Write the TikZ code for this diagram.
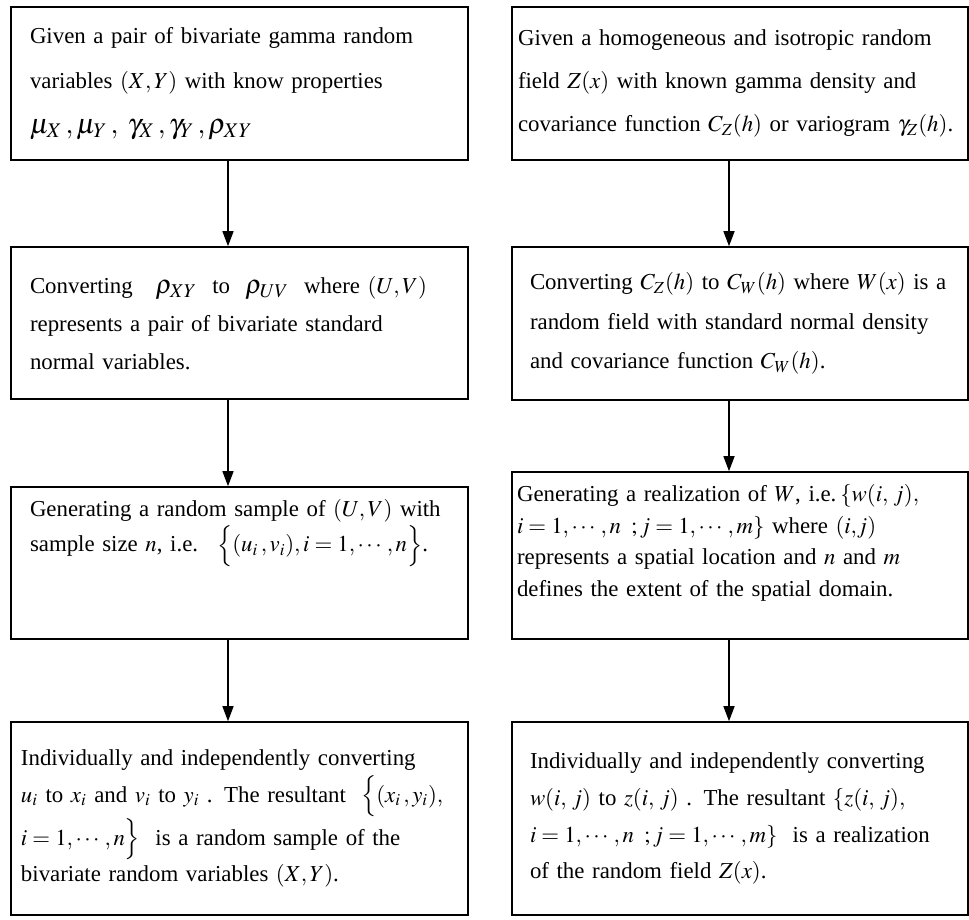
\documentclass[tikz,border=0pt]{standalone}
\usepackage{mathptmx}
\usepackage{fontspec}
\setmainfont{Liberation Serif}
\usepackage{amsmath}
\usetikzlibrary{arrows.meta}

\begin{document}
\begin{tikzpicture}[
        box/.style={rectangle, draw, line width=0.9pt, inner sep=0pt, align=left},
        lbox/.style={box, minimum width=9.14cm},
        rbox/.style={box, minimum width=9.12cm},
        sz/.style={font=\fontsize{13pt}{#1}\selectfont},
        arrow/.style={-{Triangle[length=0.3cm, width=0.22cm]}, line width=0.8pt}
    ]
        \useasboundingbox (0,0) rectangle (19.38,-18.4);

        % Left column
        \node[lbox, sz=25.5pt, minimum height=3.06cm, text width=8.38cm] (gamma) at (4.79,-1.67)
            {Given a pair of bivariate gamma random\\
             variables $(X,Y)$ with know properties\\
             {\fontsize{16pt}{20pt}\selectfont$\mu_X\,,\mu_Y\,,\;\gamma_X\,,\gamma_Y\,,\rho_{XY}$}};
        \node[lbox, sz=21.5pt, minimum height=3.04cm, text width=8.38cm] (rho) at (4.79,-6.46)
            {Converting \ \ {\fontsize{15pt}{18pt}\selectfont$\rho_{XY}$} \ to \ {\fontsize{15pt}{18pt}\selectfont$\rho_{UV}$} \ where $(U,V)$\\
             represents a pair of bivariate standard\\
             normal variables.};
        \node[lbox, sz=20pt, minimum height=3.04cm, text width=8.38cm, text depth=2.2cm] (sample) at (4.79,-11.26)
            {Generating a random sample of $(U,V)$ with\\
             sample size $n$, i.e. \ $\Big\{(u_i\,,v_i),i=1,\cdots,n\Big\}$.};
        \node[lbox, sz=21pt, minimum height=3.86cm, text width=8.74cm] (convxy) at (4.79,-16.37)
            {Individually and independently converting\\
             $u_i$ to $x_i$ and $v_i$ to $y_i$ . The resultant \ $\Big\{(x_i\,, y_i),$\\
             $i=1,\cdots,n\Big\}$ \ is a random sample of the\\
             bivariate random variables $(X,Y)$.};

        % Right column
        \node[rbox, sz=24.5pt, minimum height=3.06cm, text width=8.88cm] (field) at (14.8,-1.67)
            {Given a homogeneous and isotropic random\\
             field $Z(x)$ with known gamma density and\\
             covariance function $C_Z(h)$ or variogram $\gamma_Z(h)$.};
        \node[rbox, sz=22.5pt, minimum height=3.06cm, text width=8.4cm] (covw) at (14.8,-6.47)
            {Converting $C_Z(h)$ to $C_W(h)$ where $W(x)$ is a\\
             random field with standard normal density\\
             and covariance function $C_W(h)$.};
        \node[rbox, sz=18pt, minimum height=3.34cm, text width=8.92cm, text depth=2.5cm] (realw) at (14.8,-11.11)
            {Generating a realization of $W$, i.e.\,$\{w(i,\,j),$\\
             $i=1,\cdots,n\ \,;j=1,\cdots,m\}$ where $(i{,}j)$\\
             represents a spatial location and $n$ and $m$\\
             defines the extent of the spatial domain.};
        \node[rbox, sz=21pt, minimum height=3.86cm, text width=8.4cm] (convz) at (14.8,-16.37)
            {Individually and independently converting\\
             $w(i,\,j)$ to $z(i,\,j)$ . The resultant $\{z(i,\,j),$\\
             $i=1,\cdots,n\ \,;j=1,\cdots,m\}$ \ is a realization\\
             of the random field $Z(x)$.};

        % Arrows
        \draw[arrow] ([xshift=-0.23cm]gamma.south) -- ([xshift=-0.23cm]rho.north);
        \draw[arrow] ([xshift=-0.23cm]rho.south) -- ([xshift=-0.23cm]sample.north);
        \draw[arrow] ([xshift=-0.23cm]sample.south) -- ([xshift=-0.23cm]convxy.north);
        \draw[arrow] ([xshift=-0.22cm]field.south) -- ([xshift=-0.22cm]covw.north);
        \draw[arrow] ([xshift=-0.22cm]covw.south) -- ([xshift=-0.22cm]realw.north);
        \draw[arrow] ([xshift=-0.22cm]realw.south) -- ([xshift=-0.22cm]convz.north);

    \end{tikzpicture}
\end{document}
